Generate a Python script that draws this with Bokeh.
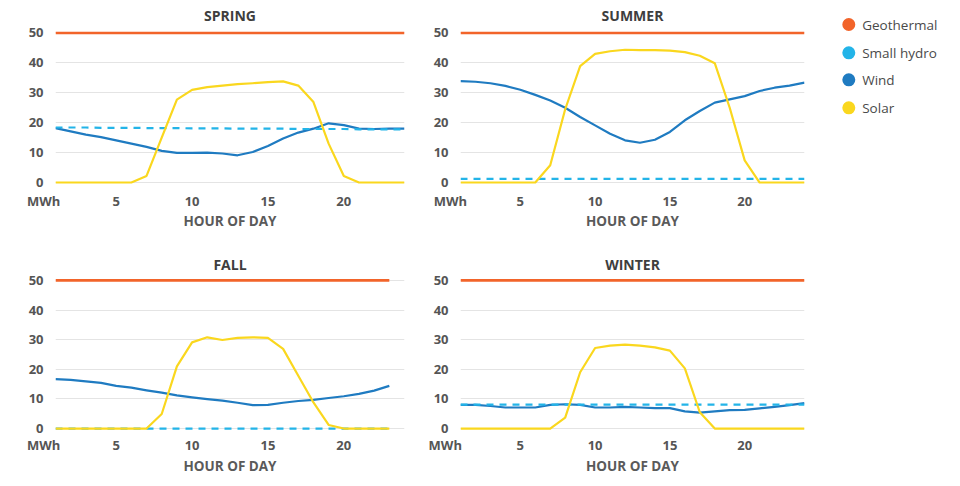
from bokeh.plotting import figure
from bokeh.layouts import row, column
from bokeh.models import Range1d, FixedTicker, ColumnDataSource
from bokeh.core.properties import value
from bokeh.embed import file_html
from bokeh.resources import INLINE

# ---------------- data ----------------
HOURS_24 = [1, 2, 3, 4, 5, 6, 7, 8, 9, 10, 11, 12, 13, 14, 15, 16, 17, 18, 19, 20, 21, 22, 23, 24]
HOURS_23 = [1, 2, 3, 4, 5, 6, 7, 8, 9, 10, 11, 12, 13, 14, 15, 16, 17, 18, 19, 20, 21, 22, 23]

SERIES_NAMES = ["Geothermal", "Small hydro", "Wind", "Solar"]
X_TICKS = [5, 10, 15, 20]
Y_TICKS = [0, 10, 20, 30, 40, 50]
SEASONS = ["SPRING", "SUMMER", "FALL", "WINTER"]
Y_LABEL = "MWh"
X_LABEL = "HOUR OF DAY"

spring_geothermal = [50, 50, 50, 50, 50, 50, 50, 50, 50, 50, 50, 50, 50, 50, 50, 50, 50, 50, 50, 50, 50, 50, 50, 50]
spring_hydro = [18.4, 18.4, 18.4, 18.3, 18.3, 18.3, 18.2, 18.2, 18.2, 18.1, 18.1, 18.1, 18.0, 18.0, 18.0, 18.0, 17.9, 17.9, 17.9, 17.9, 17.8, 17.8, 17.8, 17.8]
spring_wind = [18.2, 17.1, 16.0, 15.2, 14.1, 13.0, 11.9, 10.6, 9.9, 9.9, 10.0, 9.7, 9.1, 10.2, 12.2, 14.7, 16.7, 18.0, 19.8, 19.2, 18.0, 17.9, 18.0, 18.0]
spring_solar = [0, 0, 0, 0, 0, 0, 2.2, 15, 27.7, 31.0, 31.9, 32.4, 32.9, 33.2, 33.6, 33.8, 32.4, 26.9, 13, 2.2, 0, 0, 0, 0]

summer_geothermal = [50, 50, 50, 50, 50, 50, 50, 50, 50, 50, 50, 50, 50, 50, 50, 50, 50, 50, 50, 50, 50, 50, 50, 50]
summer_hydro = [1.2, 1.2, 1.2, 1.2, 1.2, 1.2, 1.2, 1.2, 1.2, 1.2, 1.2, 1.2, 1.2, 1.2, 1.2, 1.2, 1.2, 1.2, 1.2, 1.2, 1.2, 1.2, 1.2, 1.2]
summer_wind = [33.9, 33.7, 33.2, 32.3, 31.0, 29.3, 27.4, 25.0, 21.9, 19.1, 16.3, 14.1, 13.3, 14.3, 16.9, 20.8, 23.9, 26.7, 27.8, 28.9, 30.6, 31.7, 32.4, 33.4]
summer_solar = [0, 0, 0, 0, 0, 0, 5.8, 24.5, 38.9, 43.0, 43.9, 44.4, 44.3, 44.3, 44.1, 43.6, 42.4, 39.9, 25.0, 7.4, 0, 0, 0, 0]

fall_geothermal = [50, 50, 50, 50, 50, 50, 50, 50, 50, 50, 50, 50, 50, 50, 50, 50, 50, 50, 50, 50, 50, 50, 50]
fall_hydro = [0, 0, 0, 0, 0, 0, 0, 0, 0, 0, 0, 0, 0, 0, 0, 0, 0, 0, 0, 0, 0, 0, 0]
fall_wind = [16.7, 16.4, 15.9, 15.4, 14.4, 13.8, 12.9, 12.1, 11.2, 10.5, 9.9, 9.4, 8.7, 7.9, 8.0, 8.7, 9.3, 9.7, 10.3, 10.9, 11.7, 12.8, 14.4]
fall_solar = [0, 0, 0, 0, 0, 0, 0, 4.9, 21.0, 29.1, 30.8, 29.9, 30.6, 30.8, 30.6, 26.9, 17.8, 8.8, 1.2, 0, 0, 0, 0]

winter_geothermal = [50, 50, 50, 50, 50, 50, 50, 50, 50, 50, 50, 50, 50, 50, 50, 50, 50, 50, 50, 50, 50, 50, 50, 50]
winter_hydro = [8.1, 8.1, 8.1, 8.1, 8.1, 8.1, 8.1, 8.1, 8.1, 8.1, 8.1, 8.1, 8.1, 8.1, 8.1, 8.1, 8.1, 8.1, 8.1, 8.1, 8.1, 8.1, 8.1, 8.1]
winter_wind = [8.0, 8.0, 7.6, 7.1, 7.1, 7.1, 8.0, 8.2, 8.0, 7.1, 7.1, 7.3, 7.1, 6.9, 6.9, 5.8, 5.4, 5.8, 6.2, 6.3, 6.8, 7.3, 7.9, 8.6]
winter_solar = [0, 0, 0, 0, 0, 0, 0, 3.7, 19.0, 27.2, 28.0, 28.3, 28.0, 27.4, 26.3, 20.3, 5.5, 0, 0, 0, 0, 0, 0, 0]

# ---------------- style ----------------
FONT = "Open Sans"
C_GEO = "#F2642A"
C_HYDRO = "#23B4E8"
C_WIND = "#1F7BC1"
C_SOLAR = "#FAD71E"
COLORS = [C_GEO, C_HYDRO, C_WIND, C_SOLAR]
GRID = "#E4E4E4"
TICK_COLOR = "#555555"
TITLE_COLOR = "#3E3E3E"
NBSP = "\u00a0"


def panel(title, hours, geo, hydro, wind, solar, *, width, height, left, right, top, bottom,
          y_top, standoff, label_standoff, title_standoff, mwh_pad):
    p = figure(width=width, height=height, x_range=Range1d(1, 24), y_range=Range1d(-1, y_top),
               output_backend="svg", toolbar_location=None,
               min_border_left=left, min_border_right=right,
               min_border_top=top, min_border_bottom=bottom,
               outline_line_color=None, background_fill_color="white",
               border_fill_color="white")
    p.title.text = title
    p.title.align = "center"
    p.title.text_font = FONT
    p.title.text_font_size = "14px"
    p.title.text_font_style = "bold"
    p.title.text_color = TITLE_COLOR
    p.title.standoff = title_standoff

    p.xgrid.visible = False
    p.ygrid.ticker = FixedTicker(ticks=Y_TICKS)
    p.ygrid.grid_line_color = GRID
    p.ygrid.grid_line_width = 1.2
    # the "MWh" unit label sits in the tick-label row at the left corner
    p.xaxis.ticker = FixedTicker(ticks=[1] + X_TICKS)
    p.xaxis.major_label_overrides = {1: Y_LABEL + NBSP * mwh_pad}
    p.yaxis.ticker = FixedTicker(ticks=Y_TICKS)
    for ax in (p.xaxis[0], p.yaxis[0]):
        ax.axis_line_color = None
        ax.major_tick_line_color = None
        ax.minor_tick_line_color = None
        ax.major_label_text_font = FONT
        ax.major_label_text_font_size = "13px"
        ax.major_label_text_font_style = "bold"
        ax.major_label_text_color = TICK_COLOR
    p.xaxis.major_label_standoff = standoff
    p.yaxis.major_label_standoff = 6
    p.xaxis.axis_label = X_LABEL
    p.xaxis.axis_label_standoff = label_standoff
    p.xaxis.axis_label_text_font = FONT
    p.xaxis.axis_label_text_font_size = "13.5px"
    p.xaxis.axis_label_text_font_style = "bold"
    p.xaxis.axis_label_text_color = "#5A5A5A"

    src = ColumnDataSource(dict(hour=hours, geo=geo, hydro=hydro, wind=wind, solar=solar))
    p.line("hour", "wind", source=src, line_color=C_WIND, line_width=2.2, line_join="round")
    p.line("hour", "hydro", source=src, line_color=C_HYDRO, line_width=2.2, line_dash="7 6")
    p.line("hour", "solar", source=src, line_color=C_SOLAR, line_width=2.2, line_join="round")
    p.line("hour", "geo", source=src, line_color=C_GEO, line_width=2.6)
    return p


spring = panel(SEASONS[0], HOURS_24, spring_geothermal, spring_hydro, spring_wind, spring_solar,
               width=418, height=248, left=55, right=14, top=26, bottom=63, y_top=51.5,
               standoff=0, label_standoff=-1, title_standoff=7, mwh_pad=7)
summer = panel(SEASONS[1], HOURS_24, summer_geothermal, summer_hydro, summer_wind, summer_solar,
               width=412, height=248, left=37, right=26, top=26, bottom=63, y_top=51.5,
               standoff=0, label_standoff=-1, title_standoff=7, mwh_pad=6)
fall = panel(SEASONS[2], HOURS_23, fall_geothermal, fall_hydro, fall_wind, fall_solar,
             width=418, height=238, left=55, right=14, top=26, bottom=55, y_top=52,
             standoff=-2, label_standoff=0, title_standoff=2, mwh_pad=7)
winter = panel(SEASONS[3], HOURS_24, winter_geothermal, winter_hydro, winter_wind, winter_solar,
               width=412, height=238, left=42, right=21, top=26, bottom=55, y_top=52,
               standoff=-2, label_standoff=0, title_standoff=2, mwh_pad=9)

# ---------------- legend ----------------
leg = figure(width=130, height=130, x_range=Range1d(0, 130), y_range=Range1d(130, 0),
             output_backend="svg", toolbar_location=None, min_border=0,
             outline_line_color=None)
leg.axis.visible = False
leg.grid.visible = False
leg_rows = [24, 52.3, 79.3, 107.3]
leg_src = ColumnDataSource(dict(name=SERIES_NAMES, color=COLORS, y=leg_rows,
                                cx=[18.3] * 4, tx=[31.7] * 4))
leg.scatter("cx", "y", source=leg_src, size=13, fill_color="color", line_color=None)
leg.text("tx", "y", text="name", source=leg_src, text_font=value(FONT), text_font_size="13.5px",
         text_baseline="middle", text_color="#4A4A4A")

layout = row(column(spring, fall), column(summer, winter), leg)

open("out.html", "w").write(file_html(layout, INLINE))
